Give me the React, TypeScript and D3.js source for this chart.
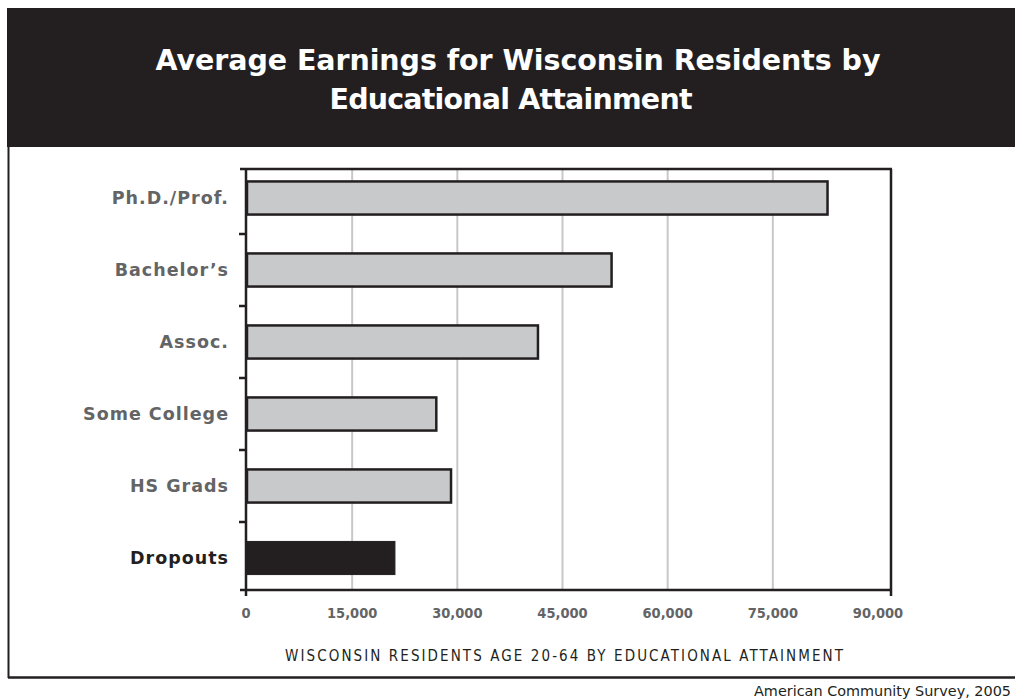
import React from "react";
import * as d3 from "d3";

const categories = ["Ph.D./Prof.", "Bachelor's", "Assoc.", "Some College", "HS Grads", "Dropouts"];
const earnings = [82800, 52000, 41500, 27000, 29100, 21100];
const xTicks = [0, 15000, 30000, 45000, 60000, 75000, 90000];
const titleLines = ["Average Earnings for Wisconsin Residents by", "Educational Attainment"];
const xTitle = "WISCONSIN RESIDENTS AGE 20-64 BY EDUCATIONAL ATTAINMENT";
const source = "American Community Survey, 2005";

const DARK = "#231f20";
const GRAY_TXT = "#636466";
const BAR_FILL = "#c8c9cb";
const GRID = "#c8c8c8";

export default function App() {
  const W = 1015, H = 700;
  const plotLeft = 246, plotRight = 891, plotTop = 169, plotBottom = 590;
  const x = d3.scaleLinear().domain([0, 90000]).range([247, 878]);
  const y = d3.scaleBand<string>().domain(categories).range([162, 594]).paddingInner(0.54).paddingOuter(0.27);
  const step = y.step();
  const fmt = d3.format(",");
  const boundaries = categories.slice(0, -1).map((c) => (y(c) as number) + y.bandwidth() + (step * 0.54) / 2);
  const labelFont = "'DejaVu Sans', 'Open Sans', sans-serif";

  return (
    <svg width={W} height={H} style={{ position: "absolute", left: 0, top: 0, background: "#fff" }}>
      {/* frame */}
      <rect x={7} y={8} width={W} height={139} fill={DARK} />
      <line x1={8.5} x2={8.5} y1={8} y2={678} stroke={DARK} strokeWidth={2} />
      <line x1={8} x2={W} y1={677.5} y2={677.5} stroke={DARK} strokeWidth={2.5} />

      {/* title */}
      <text x={518} y={70} textAnchor="middle" fill="#fff" fontFamily={labelFont} fontWeight="bold" fontSize={28.5} textLength={725} lengthAdjust="spacing">
        {titleLines[0]}
      </text>
      <text x={511} y={109} textAnchor="middle" fill="#fff" fontFamily={labelFont} fontWeight="bold" fontSize={28.5} textLength={363} lengthAdjust="spacing">
        {titleLines[1]}
      </text>

      {/* gridlines */}
      {xTicks.slice(1, -1).map((t) => (
        <line key={t} x1={x(t)} x2={x(t)} y1={plotTop} y2={plotBottom} stroke={GRID} strokeWidth={2} />
      ))}

      {/* plot frame */}
      <line x1={240} x2={plotRight + 1} y1={plotTop} y2={plotTop} stroke={DARK} strokeWidth={2.5} />
      <line x1={plotRight} x2={plotRight} y1={plotTop} y2={plotBottom + 6} stroke={DARK} strokeWidth={2.5} />

      {/* bars */}
      {categories.map((c, i) => {
        const isLast = c === "Dropouts";
        return (
          <rect
            key={c}
            x={x(0)}
            y={y(c)}
            width={x(earnings[i]) - x(0)}
            height={y.bandwidth()}
            fill={isLast ? DARK : BAR_FILL}
            stroke={DARK}
            strokeWidth={isLast ? 1 : 2.5}
          />
        );
      })}

      {/* axes */}
      <line x1={plotLeft} x2={plotLeft} y1={plotTop} y2={plotBottom + 6} stroke={DARK} strokeWidth={2.5} />
      <line x1={240} x2={plotRight + 1} y1={plotBottom} y2={plotBottom} stroke={DARK} strokeWidth={2.5} />
      {boundaries.map((b, i) => (
        <line key={i} x1={239} x2={plotLeft} y1={b} y2={b} stroke={DARK} strokeWidth={2.5} />
      ))}

      {/* category labels */}
      {categories.map((c) => (
        <text
          key={c}
          x={229}
          y={(y(c) as number) + y.bandwidth() / 2}
          dy="0.36em"
          textAnchor="end"
          fontFamily={labelFont}
          fontWeight="bold"
          fontSize={17.5}
          letterSpacing={1}
          fill={c === "Dropouts" ? DARK : GRAY_TXT}
        >
          {c.replace("'", "\u2019")}
        </text>
      ))}

      {/* x tick labels */}
      {xTicks.map((t) => (
        <text
          key={t}
          x={t === 0 ? plotLeft : x(t)}
          y={618}
          textAnchor="middle"
          fontFamily="'DejaVu Sans Condensed', 'Liberation Sans Narrow', 'DejaVu Sans', sans-serif"
          fontWeight="bold"
          fontSize={14.5}
          fill={GRAY_TXT}
        >
          {fmt(t)}
        </text>
      ))}

      {/* x title */}
      <text x={564} y={661} textAnchor="middle" fontFamily="'Liberation Sans Narrow', 'DejaVu Sans Condensed', sans-serif" fontSize={15} fill={DARK} textLength={558} lengthAdjust="spacing">
        {xTitle}
      </text>

      {/* source */}
      <text x={754} y={696} fontFamily={labelFont} fontSize={14} fill={DARK} textLength={257} lengthAdjust="spacingAndGlyphs">
        {source}
      </text>
    </svg>
  );
}
